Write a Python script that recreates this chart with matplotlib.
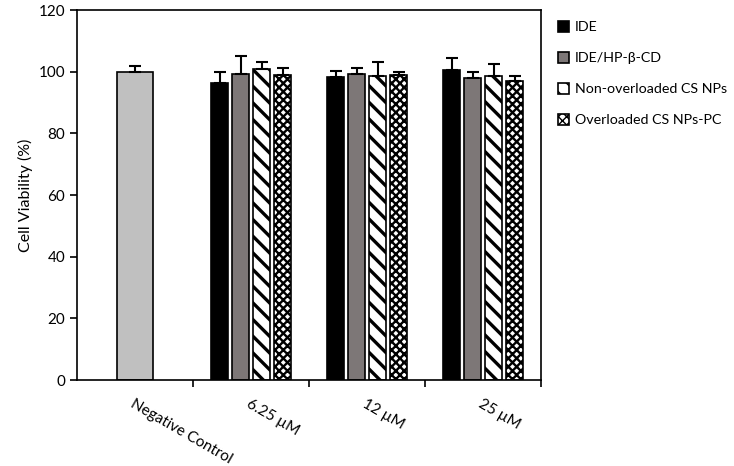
import numpy as np
import matplotlib
matplotlib.use('Agg')
import matplotlib.pyplot as plt

plt.rcParams['font.family'] = ['Lato', 'DejaVu Sans']

# data
groups = ['6.25 \u00b5M', '12 \u00b5M', '25 \u00b5M']
series = ['IDE', 'IDE/HP-\u03b2-CD', 'Non-overloaded CS NPs', 'Overloaded CS NPs-PC']
ide = [96.2, 98.4, 100.5]
ide_err = [3.6, 1.9, 4.1]
hpcd = [99.3, 99.2, 97.8]
hpcd_err = [5.8, 2.1, 2.0]
non_over = [100.9, 98.6, 98.6]
non_over_err = [2.4, 4.7, 3.9]
over = [99.0, 98.9, 97.1]
over_err = [2.3, 1.1, 1.4]
neg_label = 'Negative Control'
neg_value = 100.0
neg_err = 2.0

values = [ide, hpcd, non_over, over]
errors = [ide_err, hpcd_err, non_over_err, over_err]
faces = ['black', '#7d7777', 'white', 'white']
hatches = [None, None, '\\\\', 'xxxx']
hatch_lw = [1, 1, 2.4, 1.7]

fig = plt.figure(figsize=(7.34, 4.66), dpi=100)
ax = fig.add_axes([0.1049, 0.1845, 0.6322, 0.794])

# negative control bar
ax.bar(0, neg_value, width=0.31, color='#c0c0c0', edgecolor='black', linewidth=1.2,
       yerr=[[0], [neg_err]], capsize=4.5, error_kw=dict(elinewidth=1.5, capthick=1.5, ecolor='black'))

# grouped bars
xg = np.arange(1, len(groups) + 1)
step = 0.181
width = 0.147
handles = []
for i in range(len(series)):
    xs = xg + (i - 1.5) * step
    with plt.rc_context({'hatch.linewidth': hatch_lw[i]}):
        b = ax.bar(xs, values[i], width=width, color=faces[i], edgecolor='black', linewidth=1.2,
                   hatch=hatches[i], label=series[i],
                   yerr=[np.zeros(len(groups)), errors[i]], capsize=4.5,
                   error_kw=dict(elinewidth=1.5, capthick=1.5, ecolor='black'))
    handles.append(b)

ax.set_xlim(-0.5, 3.5)
ax.set_ylim(0, 120)
ax.set_yticks(range(0, 121, 20))
ax.set_ylabel('Cell Viability (%)', fontsize=11.5)

# tick marks between categories, labels at centres
ax.set_xticks([0.5, 1.5, 2.5, 3.5])
ax.set_xticklabels([])
ax.set_xticks([0, 1, 2, 3], minor=True)
ax.set_xticklabels([neg_label] + groups, minor=True, rotation=-30,
                   ha='left', va='top', rotation_mode='anchor', fontsize=11)
ax.tick_params(axis='x', which='minor', length=0, pad=12)
ax.tick_params(axis='x', which='major', direction='out', length=5, width=1.2)
ax.tick_params(axis='y', direction='out', length=5, width=1.2, labelsize=11)
for s in ax.spines.values():
    s.set_linewidth(1.2)

fig.legend(handles=handles, loc='upper left', bbox_to_anchor=(0.752, 0.968),
           frameon=False, fontsize=10.3, handlelength=0.8, handleheight=0.8,
           handletextpad=0.4, labelspacing=1.3, borderaxespad=0)

plt.savefig('out.png', dpi=100)
